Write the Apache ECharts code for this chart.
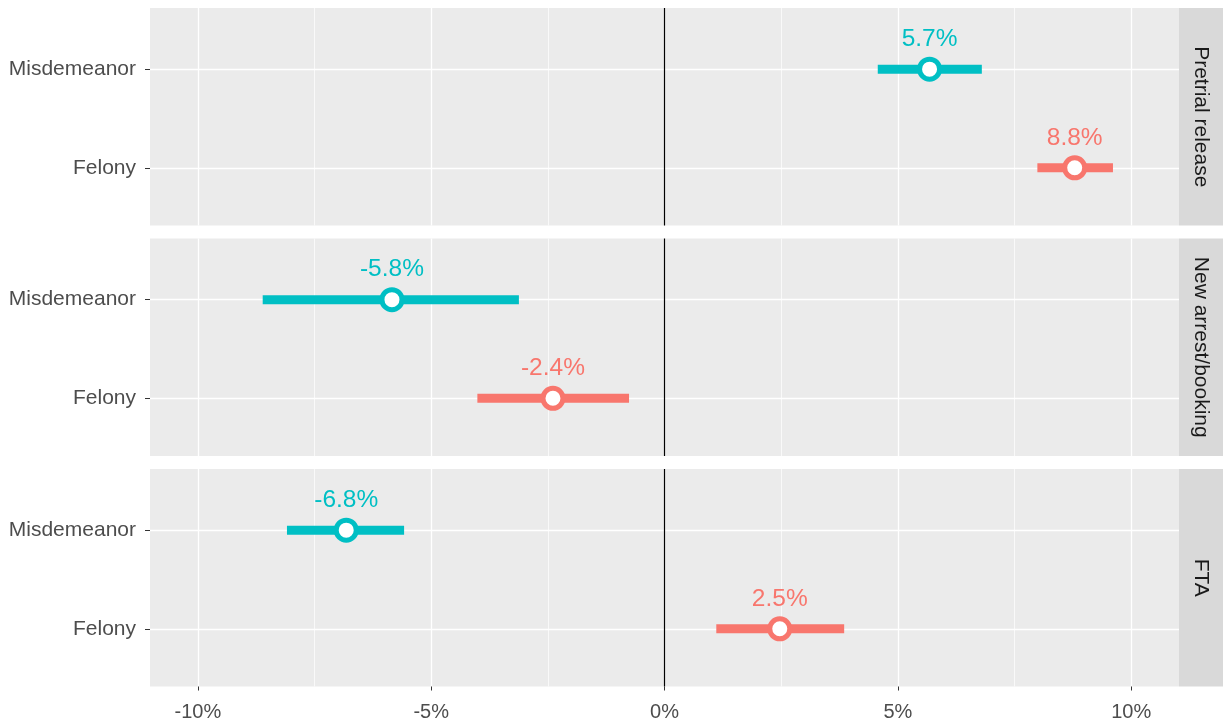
<!DOCTYPE html>
<html>
<head>
<meta charset="utf-8">
<script src="https://cdn.jsdelivr.net/npm/echarts@6/dist/echarts.min.js"></script>
<style>
  html, body { margin: 0; padding: 0; background: #fff; }
  #chart { width: 1225px; height: 723px; }
</style>
</head>
<body>
<div id="chart"></div>
<script>
// facets (top to bottom) and rows inside each facet
const outcomes = ['Pretrial release', 'New arrest/booking', 'FTA']
const offenses = ['Misdemeanor', 'Felony']
// point estimate and interval, [Misdemeanor, Felony] per facet, in %
const estimate = [[5.68, 8.79], [-5.84, -2.39], [-6.82, 2.47]]
const lower = [[4.57, 7.99], [-8.61, -4.01], [-8.09, 1.11]]
const upper = [[6.80, 9.61], [-3.12, -0.76], [-5.58, 3.85]]
const xTicks = [-10, -5, 0, 5, 10]
const xMinor = [-7.5, -2.5, 2.5, 7.5]

const colors = ['#00BFC4', '#F8766D']
const font = 'Liberation Sans, Arial, sans-serif'
const panelTop = [8, 238.5, 469]
const panelH = 217.5
const left = 150
const right = 1179
const xMin = -11.025
const xMax = 11.025

let grids = []
let xAxes = []
let yAxes = []
let series = []
let graphics = []

outcomes.forEach((name, i) => {
  grids.push({
    left: left,
    top: panelTop[i],
    width: right - left,
    height: panelH,
    show: true,
    backgroundColor: '#EBEBEB',
    borderWidth: 0
  })
  // major gridlines + tick labels
  xAxes.push({
    gridIndex: i,
    type: 'value',
    min: xMin,
    max: xMax,
    position: 'bottom',
    axisLine: { show: false, onZero: false },
    axisTick: {
      show: i === 2,
      customValues: xTicks,
      length: 4,
      lineStyle: { color: '#333333', width: 1 }
    },
    axisLabel: {
      show: i === 2,
      customValues: xTicks,
      formatter: v => v + '%',
      margin: 16,
      fontSize: 20,
      fontFamily: font,
      color: '#4D4D4D'
    },
    splitLine: { show: true, lineStyle: { color: '#FFFFFF', width: 1.3 } }
  })
  // minor gridlines
  xAxes.push({
    gridIndex: i,
    type: 'value',
    min: xMin,
    max: xMax,
    position: 'top',
    axisLine: { show: false, onZero: false },
    axisTick: { show: false, customValues: xMinor },
    axisLabel: { show: false, customValues: xMinor },
    splitLine: { show: true, lineStyle: { color: '#FFFFFF', width: 0.7 } }
  })
  yAxes.push({
    gridIndex: i,
    type: 'value',
    inverse: true,
    min: -0.62,
    max: 1.585,
    position: 'left',
    axisLine: { show: false, onZero: false },
    axisTick: {
      show: true,
      customValues: [0, 1],
      length: 5,
      lineStyle: { color: '#333333', width: 1 }
    },
    axisLabel: {
      customValues: [0, 1],
      formatter: v => offenses[v],
      margin: 14,
      fontSize: 21,
      fontFamily: font,
      color: '#4D4D4D'
    },
    splitLine: { show: true, lineStyle: { color: '#FFFFFF', width: 1.3 } }
  })

  // zero reference line
  series.push({
    type: 'scatter',
    xAxisIndex: i * 2,
    yAxisIndex: i,
    data: [],
    z: 2,
    markLine: {
      silent: true,
      symbol: 'none',
      label: { show: false },
      lineStyle: { color: '#000000', width: 1.2, type: 'solid' },
      data: [{ xAxis: 0 }]
    }
  })
  // interval bars
  series.push({
    type: 'custom',
    xAxisIndex: i * 2,
    yAxisIndex: i,
    z: 3,
    data: offenses.map((o, j) => [lower[i][j], upper[i][j], j]),
    encode: { x: [0, 1], y: 2 },
    renderItem: (params, api) => {
      const a = api.coord([api.value(0), api.value(2)])
      const b = api.coord([api.value(1), api.value(2)])
      return {
        type: 'line',
        shape: { x1: a[0], y1: a[1], x2: b[0], y2: b[1] },
        style: { stroke: colors[api.value(2)], lineWidth: 9, lineCap: 'butt' }
      }
    }
  })
  // point estimates with labels
  series.push({
    type: 'scatter',
    xAxisIndex: i * 2,
    yAxisIndex: i,
    z: 4,
    symbol: 'circle',
    symbolSize: 20,
    itemStyle: { color: '#FFFFFF', borderWidth: 5, opacity: 1 },
    label: {
      show: true,
      position: 'top',
      distance: 5,
      fontSize: 24.5,
      fontFamily: font,
      formatter: p => p.value[0].toFixed(1) + '%'
    },
    data: offenses.map((o, j) => ({
      value: [estimate[i][j], j],
      itemStyle: { borderColor: colors[j] },
      label: { color: colors[j] }
    }))
  })

  // facet strip on the right
  graphics.push({
    type: 'rect',
    shape: { x: right, y: panelTop[i], width: 44, height: panelH },
    style: { fill: '#D9D9D9' }
  })
  graphics.push({
    type: 'text',
    x: right + 22,
    y: panelTop[i] + panelH / 2,
    rotation: -Math.PI / 2,
    style: {
      text: name,
      fill: '#1A1A1A',
      fontSize: 21,
      fontFamily: font,
      align: 'center',
      verticalAlign: 'middle'
    }
  })
})

const chart = echarts.init(document.getElementById('chart'))
chart.setOption({
  animation: false,
  grid: grids,
  xAxis: xAxes,
  yAxis: yAxes,
  series: series,
  graphic: graphics
})
</script>
</body>
</html>
